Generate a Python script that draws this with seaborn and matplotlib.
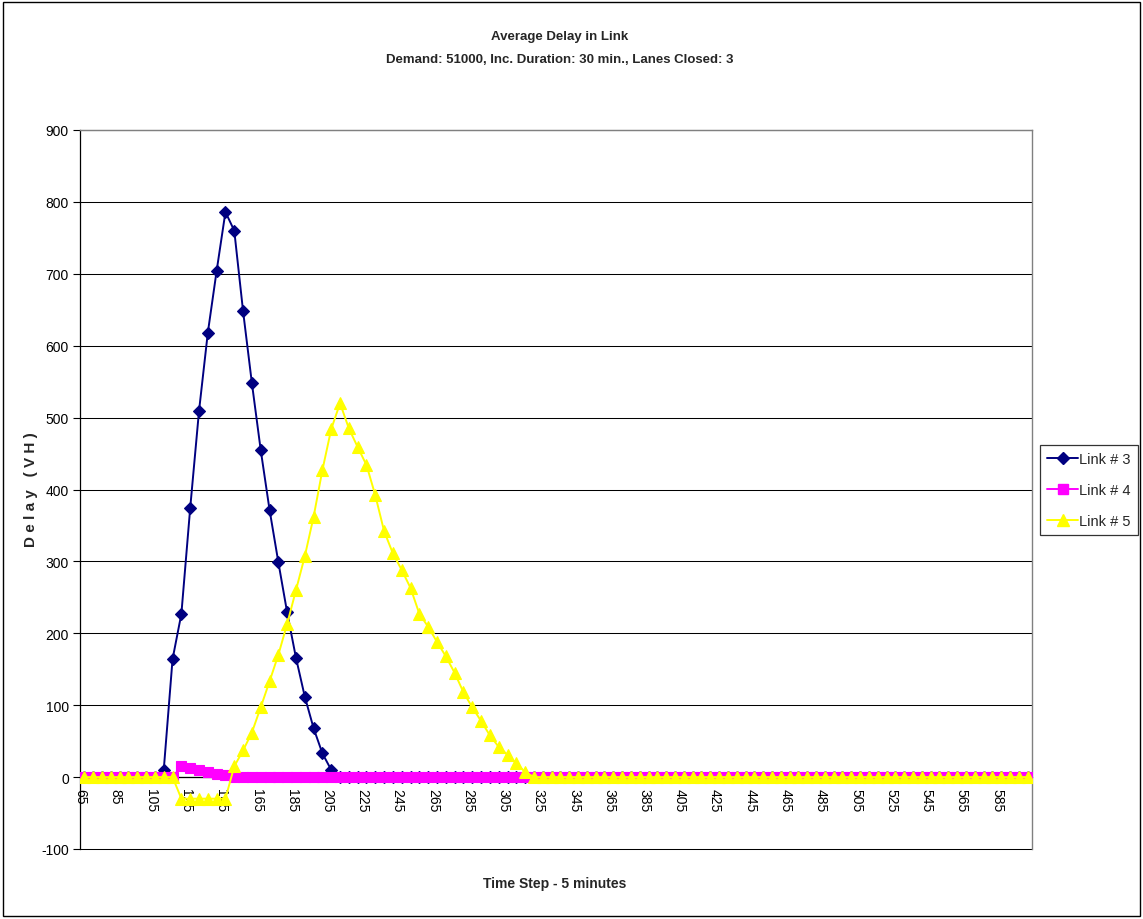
import matplotlib
matplotlib.use("Agg")
import matplotlib.pyplot as plt
from matplotlib import font_manager as fm
from matplotlib import transforms as mtransforms
from matplotlib.lines import Line2D
from matplotlib.patches import Rectangle
import seaborn as sns
import pandas as pd

# Time steps (minutes), one category every 5 minutes
time_steps = list(range(65, 605, 5))

link3 = [
    0, 0, 0, 0, 0, 0, 0, 0, 0,
    10, 164, 227, 374, 509, 618, 704, 786, 760, 648,
    548, 455, 372, 299, 229, 166, 112, 68, 33, 10,
    0, 0, 0, 0, 0, 0, 0, 0, 0, 0,
    0, 0, 0, 0, 0, 0, 0, 0, 0, 0,
    0, 0, 0, 0, 0, 0, 0, 0, 0, 0,
    0, 0, 0, 0, 0, 0, 0, 0, 0, 0,
    0, 0, 0, 0, 0, 0, 0, 0, 0, 0,
    0, 0, 0, 0, 0, 0, 0, 0, 0, 0,
    0, 0, 0, 0, 0, 0, 0, 0, 0, 0,
    0, 0, 0, 0, 0, 0, 0, 0, 0,
]

link4 = [
    0, 0, 0, 0, 0, 0, 0, 0, 0, 0, 0,
    15, 12, 10, 7, 5, 3,
    0, 0, 0, 0, 0, 0, 0, 0, 0, 0,
    0, 0, 0, 0, 0, 0, 0, 0, 0, 0,
    0, 0, 0, 0, 0, 0, 0, 0, 0, 0,
    0, 0, 0, 0, 0, 0, 0, 0, 0, 0,
    0, 0, 0, 0, 0, 0, 0, 0, 0, 0,
    0, 0, 0, 0, 0, 0, 0, 0, 0, 0,
    0, 0, 0, 0, 0, 0, 0, 0, 0, 0,
    0, 0, 0, 0, 0, 0, 0, 0, 0, 0,
    0, 0, 0, 0, 0, 0, 0, 0, 0, 0,
    0,
]

link5 = [
    0, 0, 0, 0, 0, 0, 0, 0, 0, 0, 0,
    -30, -30, -30, -30, -30, -30,
    15, 37, 62, 97, 133, 170, 213, 260, 307, 362,
    427, 484, 520, 485, 459, 434, 392, 342, 311, 288,
    263, 227, 209, 188, 168, 145, 118, 97, 78, 58,
    42, 31, 19, 7,
    0, 0, 0, 0, 0, 0, 0, 0, 0, 0,
    0, 0, 0, 0, 0, 0, 0, 0, 0, 0,
    0, 0, 0, 0, 0, 0, 0, 0, 0, 0,
    0, 0, 0, 0, 0, 0, 0, 0, 0, 0,
    0, 0, 0, 0, 0, 0, 0, 0, 0, 0,
    0, 0, 0, 0, 0, 0, 0,
]

series_names = ["Link # 3", "Link # 4", "Link # 5"]
series_colors = ["#000080", "#FF00FF", "#FFFF00"]
series_markers = ["D", "s", "^"]
series_sizes = [6, 7, 8]

y_ticks = list(range(-100, 1000, 100))
x_label_ticks = list(range(65, 600, 20))

sns.set_style("white")
installed = {f.name for f in fm.fontManager.ttflist}
base_font = "Liberation Sans" if "Liberation Sans" in installed else "DejaVu Sans"
narrow_font = "Liberation Sans Narrow" if "Liberation Sans Narrow" in installed else base_font
title_size = 11 if narrow_font != base_font else 9.5
plt.rcParams["font.family"] = [base_font, "DejaVu Sans"]

W, H = 1143, 920
fig = plt.figure(figsize=(W / 100, H / 100), dpi=100)
fig.patch.set_facecolor("white")

# plot area in pixel coordinates
left, right, top, bottom = 80, 1032, 131, 850
ax = fig.add_axes([left / W, 1 - bottom / H, (right - left) / W, (bottom - top) / H])

df = pd.DataFrame({
    "time": time_steps * 3,
    "delay": link3 + link4 + link5,
    "link": [series_names[0]] * len(time_steps)
    + [series_names[1]] * len(time_steps)
    + [series_names[2]] * len(time_steps),
})

for name, col, mk, ms in zip(series_names, series_colors, series_markers, series_sizes):
    sub = df[df["link"] == name]
    sns.lineplot(
        data=sub, x="time", y="delay", ax=ax, color=col, marker=mk,
        markersize=ms, markeredgecolor=col, markeredgewidth=0.8,
        linewidth=1.4, legend=False, zorder=3, clip_on=True,
    )

ax.set_xlim(62.5, 602.5)
ax.set_ylim(-100, 900)

# horizontal gridlines
ax.set_yticks(y_ticks)
ax.set_yticklabels([str(v) for v in y_ticks])
for v in y_ticks:
    ax.axhline(v, color="black", linewidth=0.75, zorder=1, clip_on=False)

# category axis sits on the zero line
ax.spines["bottom"].set_position(("data", 0))
ax.spines["bottom"].set_color("black")
ax.spines["bottom"].set_linewidth(0.9)
ax.spines["bottom"].set_zorder(2)
ax.spines["left"].set_color("black")
ax.spines["left"].set_linewidth(0.9)
for s in ("top", "right"):
    ax.spines[s].set_color("#808080")
    ax.spines[s].set_linewidth(1.0)

ax.set_xticks(x_label_ticks)
ax.set_xticklabels([str(v) for v in x_label_ticks], rotation=270)
ax.set_xticks([62.5 + 10 * k for k in range(55)], minor=True)
ax.tick_params(axis="x", which="major", length=0, pad=8, labelsize=10, colors="black")
ax.tick_params(axis="x", which="minor", length=5, width=0.8, direction="out", color="black")
ax.tick_params(axis="y", which="major", length=5, width=0.8, direction="out",
               pad=3, labelsize=10, colors="black", left=True)
shift = mtransforms.ScaledTranslation(-4 / 100, 0, fig.dpi_scale_trans)
for lab in ax.get_xticklabels():
    lab.set_transform(lab.get_transform() + shift)
ax.set_xlabel("")
ax.set_ylabel("")

# titles and axis titles
fig.text(560 / W, 1 - 37 / H, "Average Delay in Link", ha="center", va="center",
         fontsize=title_size, fontweight="bold", family=[narrow_font, "DejaVu Sans"])
fig.text(560 / W, 1 - 60 / H, "Demand: 51000, Inc. Duration: 30 min., Lanes Closed: 3",
         ha="center", va="center", fontsize=title_size, fontweight="bold",
         family=[narrow_font, "DejaVu Sans"])
fig.text(555 / W, 1 - 884 / H, "Time Step - 5 minutes", ha="center", va="center",
         fontsize=10, fontweight="bold", family=[narrow_font, "DejaVu Sans"])
fig.text(31 / W, 1 - 490 / H, "D e l a y   ( V H )", ha="center", va="center",
         rotation=90, fontsize=11, fontweight="bold")

# legend
handles = [
    Line2D([0], [0], color=c, marker=m, markersize=s, markeredgecolor=c, linewidth=1.4)
    for c, m, s in zip(series_colors, series_markers, series_sizes)
]
leg = fig.legend(handles, series_names, loc="upper left",
                 bbox_to_anchor=(1040 / W, 1 - 446 / H), frameon=True, fancybox=False,
                 fontsize=10.5, handlelength=2.1, handletextpad=0.1, labelspacing=1.15,
                 borderpad=0.5, borderaxespad=0)
leg.get_frame().set_edgecolor("black")
leg.get_frame().set_linewidth(0.9)

# outer chart border
fig.patches.append(Rectangle((3 / W, 3 / H), (W - 6) / W, (H - 6) / H,
                             transform=fig.transFigure, fill=False,
                             edgecolor="black", linewidth=1.0))

fig.savefig("out.png", dpi=100, facecolor="white")
